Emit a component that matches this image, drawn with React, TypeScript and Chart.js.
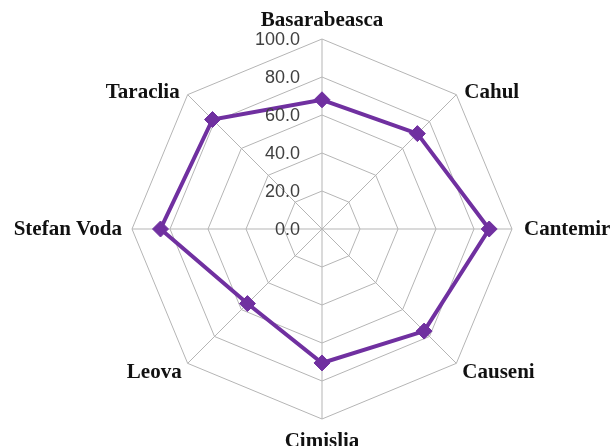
import React, { useEffect, useRef } from "react";
import { Chart, registerables } from "chart.js";

Chart.register(...registerables);

const categories = [
  "Basarabeasca",
  "Cahul",
  "Cantemir",
  "Causeni",
  "Cimislia",
  "Leova",
  "Stefan Voda",
  "Taraclia",
];
const values = [68, 71, 88, 76, 70.5, 55.5, 85, 81.5];
const tickValues = [0, 20, 40, 60, 80, 100];
const tickLabels = ["0.0", "20.0", "40.0", "60.0", "80.0", "100.0"];

const labelPlugin = {
  id: "customLabels",
  afterDraw(chart: any) {
    const scale = chart.scales.r;
    const ctx = chart.ctx;
    ctx.save();
    // tick labels
    ctx.font = '18px "Liberation Sans", Arial, sans-serif';
    ctx.fillStyle = "#404040";
    ctx.textAlign = "right";
    ctx.textBaseline = "middle";
    tickValues.forEach((v, i) => {
      const d = scale.getDistanceFromCenterForValue(v);
      ctx.fillText(tickLabels[i], scale.xCenter - 22, scale.yCenter - d + 1);
    });
    // point labels
    ctx.font = 'bold 21px "Liberation Serif", "Times New Roman", serif';
    ctx.fillStyle = "#111111";
    const n = categories.length;
    categories.forEach((label, i) => {
      const p = scale.getPointPosition(i, scale.drawingArea);
      const a = (i / n) * Math.PI * 2;
      const sx = Math.sin(a);
      const cy = Math.cos(a);
      let x = p.x;
      let y = p.y;
      if (Math.abs(sx) < 0.01) {
        ctx.textAlign = "center";
        ctx.textBaseline = "alphabetic";
        y = cy > 0 ? p.y - 13 : p.y + 28;
      } else {
        ctx.textAlign = sx > 0 ? "left" : "right";
        ctx.textBaseline = "alphabetic";
        if (Math.abs(cy) < 0.01) {
          x = p.x + (sx > 0 ? 12 : -10);
          y = p.y + 6;
        } else if (cy > 0) {
          x = p.x + (sx > 0 ? 8 : -8);
          y = p.y + 3;
        } else {
          x = p.x + (sx > 0 ? 6 : -6);
          y = p.y + 15;
        }
      }
      ctx.fillText(label, x, y);
    });
    ctx.restore();
  },
};

export default function App() {
  const canvasRef = useRef<HTMLCanvasElement>(null);

  useEffect(() => {
    document.body.style.margin = "0";
    const canvas = canvasRef.current;
    if (!canvas) return;
    const chart = new Chart(canvas, {
      type: "radar",
      data: {
        labels: categories,
        datasets: [
          {
            data: values,
            borderColor: "#7030A0",
            backgroundColor: "#7030A0",
            borderWidth: 4,
            fill: false,
            pointStyle: "rectRot",
            pointRadius: 8,
            pointHoverRadius: 8,
            pointBackgroundColor: "#7030A0",
            pointBorderColor: "#7030A0",
            pointBorderWidth: 1,
          },
        ],
      },
      options: {
        animation: false,
        responsive: true,
        maintainAspectRatio: false,
        layout: { padding: { left: 132, right: 98, top: 39, bottom: 27 } },
        plugins: {
          legend: { display: false },
          tooltip: { enabled: false },
        },
        scales: {
          r: {
            min: 0,
            max: 100,
            ticks: { display: false, stepSize: 20 },
            pointLabels: { display: false },
            grid: { color: "#b5b5b5", lineWidth: 1, circular: false },
            angleLines: { color: "#b5b5b5", lineWidth: 1 },
          },
        },
      },
      plugins: [labelPlugin],
    });
    return () => chart.destroy();
  }, []);

  return (
    <div style={{ width: 610, height: 446, position: "relative", background: "#ffffff" }}>
      <canvas ref={canvasRef} />
    </div>
  );
}
